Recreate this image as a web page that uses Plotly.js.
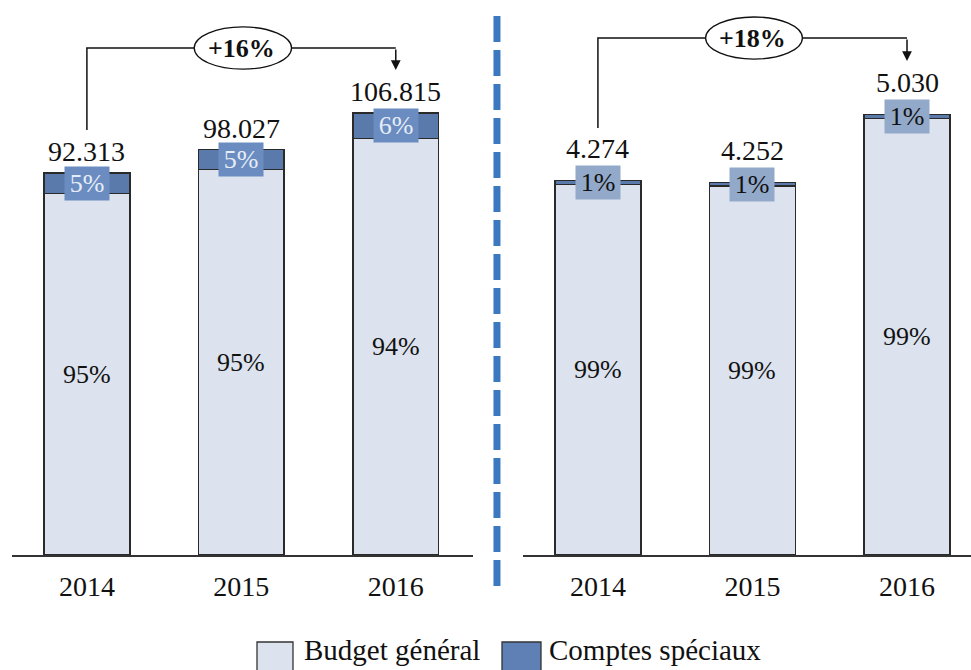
<!DOCTYPE html>
<html>
<head>
<meta charset="utf-8">
<script src="https://cdn.plot.ly/plotly-3.0.1.min.js"></script>
<style>html,body{margin:0;padding:0;background:#fff;}#chart{width:971px;height:670px;}</style>
</head>
<body>
<div id="chart"></div>
<script>
// ---- data ----
const years = ['2014', '2015', '2016'];
// Left panel (totals)
const leftTotals = [92.313, 98.027, 106.815];
const leftGeneral = [87.313, 93.127, 100.615];
const leftSpecial = [5.0, 4.9, 6.2];
const leftGeneralPct = ['95%', '95%', '94%'];
const leftSpecialPct = ['5%', '5%', '6%'];
const leftTotalLabels = ['92.313', '98.027', '106.815'];
const leftGrowth = '+16%';
// Right panel
const rightTotals = [4.274, 4.252, 5.030];
const rightGeneral = [4.231, 4.209, 4.980];
const rightSpecial = [0.043, 0.043, 0.050];
const rightGeneralPct = ['99%', '99%', '99%'];
const rightSpecialPct = ['1%', '1%', '1%'];
const rightTotalLabels = ['4.274', '4.252', '5.030'];
const rightGrowth = '+18%';
const seriesNames = ['Budget général', 'Comptes spéciaux'];

// ---- styles ----
const FONT = 'Liberation Serif, Times New Roman, serif';
const lightFill = '#dce3ee';
const darkFill = '#5a7aab';
const outline = '#2a2a2a';
const barW = 0.555;

const traces = [
  {type: 'bar', name: seriesNames[0], x: years, y: leftGeneral, xaxis: 'x', yaxis: 'y', showlegend: false,
   marker: {color: lightFill, line: {color: outline, width: 1.5}}, width: barW, hoverinfo: 'y'},
  {type: 'bar', name: seriesNames[1], x: years, y: leftSpecial, xaxis: 'x', yaxis: 'y', showlegend: false,
   marker: {color: darkFill, line: {color: outline, width: 1.5}}, width: barW, hoverinfo: 'y'},
  {type: 'bar', name: seriesNames[0], x: years, y: rightGeneral, xaxis: 'x2', yaxis: 'y2', showlegend: false,
   marker: {color: lightFill, line: {color: outline, width: 1.5}}, width: barW, hoverinfo: 'y'},
  {type: 'bar', name: seriesNames[1], x: years, y: rightSpecial, xaxis: 'x2', yaxis: 'y2', showlegend: false,
   marker: {color: darkFill, line: {color: outline, width: 1.5}}, width: barW, hoverinfo: 'y'}
];

const annotations = [];
const shapes = [];

function panel(xa, ya, general, special, totals, totalLabels, gPct, sPct, growth, cfg) {
  for (let i = 0; i < years.length; i++) {
    annotations.push({xref: xa, yref: ya, x: i, y: totals[i], text: totalLabels[i], showarrow: false,
      yanchor: 'middle', yshift: cfg.totalShift, font: {family: FONT, size: 28, color: '#111'}});
    annotations.push({xref: xa, yref: ya, x: i, y: general[i] / 2, text: gPct[i], showarrow: false,
      yanchor: 'middle', font: {family: FONT, size: 26, color: '#111'}});
    annotations.push({xref: xa, yref: ya, x: i, y: general[i] + special[i] / 2, text: sPct[i], showarrow: false,
      yanchor: 'middle', bgcolor: cfg.boxColor, borderpad: 2, width: 40, height: 29,
      font: {family: FONT, size: 26, color: cfg.boxText}});
  }
  shapes.push({type: 'path', xref: xa, yref: ya, layer: 'above',
    path: `M 0 ${cfg.startY} L 0 ${cfg.levelY} L 2 ${cfg.levelY}`,
    line: {color: '#111', width: 1.5}});
  shapes.push({type: 'circle', xref: xa, yref: ya, layer: 'above',
    x0: cfg.ex0, x1: cfg.ex1, y0: cfg.ey0, y1: cfg.ey1,
    fillcolor: '#ffffff', line: {color: '#111', width: 1.3}});
  annotations.push({xref: xa, yref: ya, x: 1, y: cfg.levelY, text: '<b>' + growth + '</b>', showarrow: false,
    yanchor: 'middle', font: {family: FONT, size: 26, color: '#111'}});
  annotations.push({xref: xa, yref: ya, x: 2, y: cfg.tipY, axref: xa, ayref: ya, ax: 2, ay: cfg.levelY,
    text: '', showarrow: true, arrowhead: 2, arrowsize: 1.3, arrowwidth: 1.5, arrowcolor: '#111', standoff: 0, startstandoff: 0});
}

panel('x', 'y', leftGeneral, leftSpecial, leftTotals, leftTotalLabels, leftGeneralPct, leftSpecialPct, leftGrowth,
  {totalShift: 21, boxColor: '#6a8cc0', boxText: '#e6edf7', startY: 102.7, levelY: 122.5, tipY: 117.2,
   ex0: 0.695, ex1: 1.325, ey0: 117.4, ey1: 127.6});
panel('x2', 'y2', rightGeneral, rightSpecial, rightTotals, rightTotalLabels, rightGeneralPct, rightSpecialPct, rightGrowth,
  {totalShift: 32, boxColor: '#92a9ca', boxText: '#111', startY: 4.873, levelY: 5.90, tipY: 5.638,
   ex0: 0.697, ex1: 1.323, ey0: 5.66, ey1: 6.14});

// dashed separator (paper coords: plot area x 12..971, y 10..555)
shapes.push({type: 'line', xref: 'paper', yref: 'paper', x0: 0.5057, x1: 0.5057, y0: 0.989, y1: -0.0569,
  line: {color: '#3b78c0', width: 7, dash: '26px,8px'}});

// legend (swatches + labels)
const px2x = p => (p - 12) / 959;
const px2y = p => (555 - p) / 545;
const legendFills = [lightFill, '#5f80b5'];
const legendSwatchX = [[257, 293], [502, 541]];
const legendTextX = [303, 548];
for (let k = 0; k < seriesNames.length; k++) {
  shapes.push({type: 'rect', xref: 'paper', yref: 'paper',
    x0: px2x(legendSwatchX[k][0]), x1: px2x(legendSwatchX[k][1]), y0: px2y(642), y1: px2y(676),
    fillcolor: legendFills[k], line: {color: '#333', width: 1.3}});
  annotations.push({xref: 'paper', yref: 'paper', x: px2x(legendTextX[k]), y: px2y(650), xanchor: 'left', yanchor: 'middle',
    text: seriesNames[k], showarrow: false, borderpad: 0, font: {family: FONT, size: 29, color: '#111'}});
}

const axisCommon = {type: 'category', showline: true, linecolor: '#333', linewidth: 1.5, showgrid: false,
  zeroline: false, ticks: '', ticklabelstandoff: 6, tickfont: {family: FONT, size: 28, color: '#111'}, fixedrange: true};
const yCommon = {showticklabels: false, showgrid: false, zeroline: false, showline: false, fixedrange: true};

const layout = {
  width: 971, height: 670,
  margin: {l: 12, r: 0, t: 10, b: 115, autoexpand: false},
  paper_bgcolor: '#ffffff', plot_bgcolor: '#ffffff',
  barmode: 'stack',
  showlegend: false,
  xaxis: Object.assign({}, axisCommon, {domain: [0, 0.4807], range: [-0.485, 2.5], anchor: 'y'}),
  xaxis2: Object.assign({}, axisCommon, {domain: [0.5328, 1], range: [-0.485, 2.414], anchor: 'y2'}),
  yaxis: Object.assign({}, yCommon, {range: [0, 131.7], anchor: 'x'}),
  yaxis2: Object.assign({}, yCommon, {range: [0, 6.22], anchor: 'x2'}),
  annotations: annotations,
  shapes: shapes
};

Plotly.newPlot('chart', traces, layout, {displayModeBar: false, staticPlot: true});
</script>
</body>
</html>
